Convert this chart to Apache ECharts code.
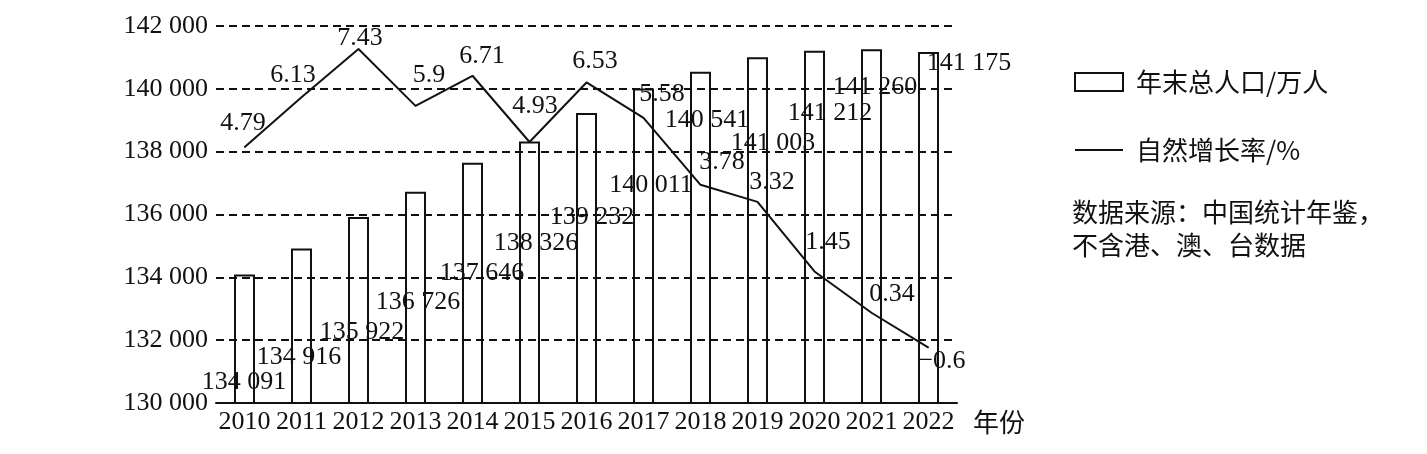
<!DOCTYPE html>
<html>
<head>
<meta charset="utf-8">
<script src="https://cdn.jsdelivr.net/npm/echarts@6/dist/echarts.min.js"></script>
<style>
html,body{margin:0;padding:0;background:#fff;}
#chart{width:1427px;height:454px;}
</style>
</head>
<body>
<div id="chart"></div>
<script>
// ---- data ----
const years = ['2010','2011','2012','2013','2014','2015','2016','2017','2018','2019','2020','2021','2022'];
const population = [134091,134916,135922,136726,137646,138326,139232,140011,140541,141003,141212,141260,141175];
const growthRate = [4.79,6.13,7.43,5.9,6.71,4.93,6.53,5.58,3.78,3.32,1.45,0.34,-0.6];
const popTicks = [130000,132000,134000,136000,138000,140000,142000];
const popName = '年末总人口/万人';
const rateName = '自然增长率/%';
const sourceNote = '数据来源：中国统计年鉴，\n不含港、澳、台数据';

// ---- label layout (placement only) ----
const barLabelOffsets = [[-0.5,107.5],[-2.5,108.4],[3.5,115],[2.5,110.3],[9.5,110],[6.5,101.6],[5.5,104],[7.5,96.5],[6.5,48],[15.5,85.7],[15.5,62.2],[3.5,37.7],[40.5,11]];
const lineLabelOffsets = [[-1.5,-24],[-8.5,-22],[1.5,-10],[13.5,-30],[9.5,-19],[5.5,-35],[8.5,-20.5],[18.5,-23],[21.5,-22],[14.5,-19],[13.5,-28.5],[20.5,-17.7],[13.5,14.3]];

const numFont = 'Liberation Serif';
const cjkFont = 'Noto Sans CJK SC';
const ink = '#111';
const numSize = 26;
const fmtThousands = v => String(v).replace(/(\d)(?=(\d{3})+$)/g, '$1 ');

const chart = echarts.init(document.getElementById('chart'));
chart.setOption({
  backgroundColor: '#fff',
  animation: false,
  grid: {left: 216, right: 470, top: 26, bottom: 51},
  legend: {
    orient: 'vertical',
    left: 1074,
    top: 69,
    padding: 0,
    itemWidth: 48,
    itemHeight: 18,
    itemGap: 42,
    textStyle: {fontFamily: cjkFont, fontSize: 26, color: ink, lineHeight: 26, padding: [0,0,0,8]},
    data: [
      {name: popName, icon: 'rect', itemStyle: {color: '#fff', borderColor: ink, borderWidth: 2}},
      {name: rateName, icon: 'path://M0,0 H48 V2 H0 Z', itemStyle: {color: ink, borderWidth: 0}}
    ]
  },
  xAxis: {
    type: 'category',
    data: years,
    boundaryGap: true,
    name: '年份',
    nameLocation: 'end',
    nameGap: 16,
    nameTextStyle: {fontFamily: cjkFont, fontSize: 26, color: ink, verticalAlign: 'top', padding: [6,0,0,0]},
    axisLine: {onZero: false, lineStyle: {color: ink, width: 2}},
    axisTick: {show: false},
    axisLabel: {interval: 0, fontFamily: numFont, fontSize: numSize, color: ink, margin: 6}
  },
  yAxis: [
    {
      type: 'value',
      min: popTicks[0],
      max: popTicks[popTicks.length - 1],
      interval: popTicks[1] - popTicks[0],
      axisLine: {show: false},
      axisTick: {show: false},
      axisLabel: {fontFamily: numFont, fontSize: numSize, color: ink, margin: 8, formatter: fmtThousands},
      splitLine: {lineStyle: {color: ink, width: 2, type: [8,5]}}
    },
    {
      type: 'value',
      min: -2.086,
      max: 8.048,
      show: false,
      splitLine: {show: false}
    }
  ],
  series: [
    {
      name: popName,
      type: 'bar',
      barWidth: 21,
      itemStyle: {color: 'rgba(255,255,255,0)', borderColor: ink, borderWidth: 2},
      label: {
        show: true, position: 'top', distance: 0, align: 'center', verticalAlign: 'middle',
        fontFamily: numFont, fontSize: numSize, color: ink,
        formatter: p => fmtThousands(p.value)
      },
      data: population.map((v, i) => ({value: v, label: {offset: barLabelOffsets[i]}})),
      z: 2
    },
    {
      name: rateName,
      type: 'line',
      yAxisIndex: 1,
      symbol: 'circle',
      symbolSize: 1,
      showSymbol: true,
      showAllSymbol: true,
      lineStyle: {color: ink, width: 2},
      itemStyle: {color: ink},
      label: {
        show: true, position: 'top', distance: 0, align: 'center', verticalAlign: 'middle',
        fontFamily: numFont, fontSize: numSize, color: ink,
        formatter: p => String(p.value).replace('-', '\u2212')
      },
      data: growthRate.map((v, i) => ({value: v, label: {offset: lineLabelOffsets[i]}})),
      z: 3
    }
  ],
  graphic: [
    {
      type: 'text',
      left: 1072,
      top: 196,
      style: {text: sourceNote, fontFamily: cjkFont, fontSize: 26, lineHeight: 33, fill: ink}
    }
  ]
});
</script>
</body>
</html>
